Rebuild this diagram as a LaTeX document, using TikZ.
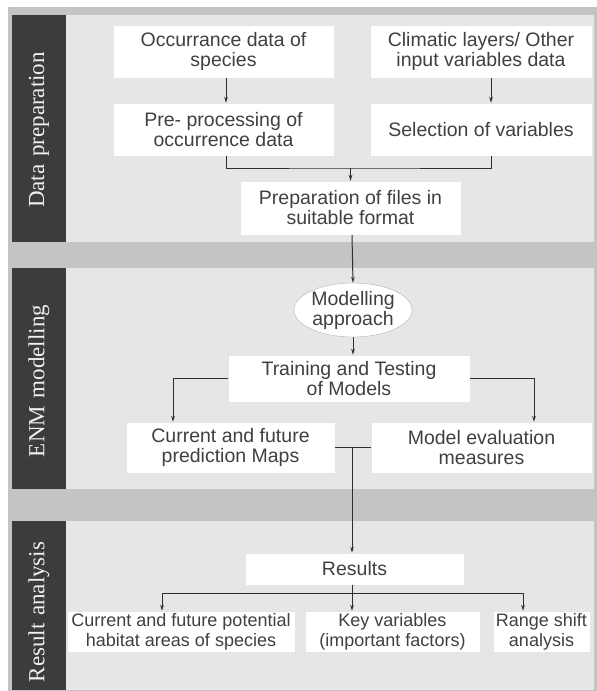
\documentclass[tikz,border=0pt]{standalone}
\usepackage{fontspec}
\setmainfont{Liberation Serif}
\setsansfont{Liberation Sans}
\usetikzlibrary{arrows.meta,shapes.geometric}
\definecolor{outergray}{HTML}{C4C4C4}
\definecolor{panelgray}{HTML}{E6E6E6}
\definecolor{bardark}{HTML}{3C3C3C}
\definecolor{txtgray}{HTML}{404040}
\definecolor{linegray}{HTML}{2E2E2E}
\begin{document}
\begin{tikzpicture}[x=1pt,y=-1pt,
  box/.style={draw=black!10,fill=white,inner sep=0pt,align=center,text=txtgray,
    font=\sffamily\fontsize{19.5}{20}\selectfont},
  smallbox/.style={box,font=\sffamily\fontsize{18}{20}\selectfont},
  ellnode/.style={ellipse,draw=black!30,fill=white,inner sep=0pt,align=center,text=txtgray,
    minimum width=106pt,minimum height=50pt,font=\sffamily\fontsize{19.5}{20}\selectfont},
  barlabel/.style={rotate=90,text=white!94!black,font=\rmfamily\fontsize{23}{24}\selectfont},
  conn/.style={draw=linegray,line width=1pt},
  arr/.style={conn,-{Stealth[length=6pt,width=3.6pt]}}]
\useasboundingbox (0,0) rectangle (597,691);
\fill[white] (0,0) rectangle (597,691);
% frame and panels
\fill[outergray] (8,7) rectangle (597,691);
\fill[panelgray] (12,15) rectangle (594,242);
\fill[panelgray] (12,268) rectangle (594,489);
\fill[panelgray] (12,521) rectangle (594,690);
\fill[bardark] (12,15) rectangle (66,242);
\fill[bardark] (12,268) rectangle (66,489);
\fill[bardark] (12,521) rectangle (66,690);
\node[barlabel] (l1) at (39,130) {Data\,\,preparation};
\node[barlabel] (l2) at (39,381) {ENM\,\,modelling};
\node[barlabel] (l3) at (39,612) {Result\,\,analysis};
% panel 1
\node[box,minimum width=221pt,minimum height=53pt] (occ) at (223.5,51.5) {Occurrance data of\\species};
\node[box,minimum width=222pt,minimum height=53pt] (clim) at (481,51.5) {Climatic layers/ Other\\input variables data};
\node[box,minimum width=221pt,minimum height=53pt] (pre) at (223.5,129.5) {Pre- processing of\\occurrence data};
\node[box,minimum width=222pt,minimum height=53pt] (sel) at (481,129.5) {Selection of variables};
\node[box,minimum width=221pt,minimum height=54pt] (prep) at (350.5,208) {Preparation of files in\\suitable format};
% panel 2
\node[ellnode] (ell) at (353,310) {Modelling\\approach};
\node[box,minimum width=242pt,minimum height=47pt] (train) at (349,378.5) {Training and Testing\\of Models};
\node[box,minimum width=209pt,minimum height=51pt] (curr) at (230.5,447.5) {Current and future\\prediction Maps};
\node[box,minimum width=221pt,minimum height=51pt] (eval) at (481.5,447.5) {Model evaluation\\measures};
% panel 3
\node[box,minimum width=219pt,minimum height=32pt] (res) at (354.5,569) {Results};
\node[smallbox,minimum width=228pt,minimum height=41pt] (pot) at (181,631.5) {Current and future potential\\habitat areas of species};
\node[smallbox,minimum width=175pt,minimum height=41pt] (key) at (392.5,631.5) {Key variables\\(important factors)};
\node[smallbox,minimum width=97pt,minimum height=41pt] (rng) at (541.5,631.5) {Range shift\\analysis};
% connectors panel 1
\draw[arr] ([xshift=2.5pt]occ.south) -- ([xshift=2.5pt]pre.north);
\draw[arr] ([xshift=10pt]clim.south) -- ([xshift=10pt]sel.north);
\coordinate (j1) at (350.5,168);
\draw[conn] ([xshift=2.5pt]pre.south) |- (j1) -| ([xshift=10pt]sel.south);
\draw[arr] (j1) -- (prep.north);
\draw[arr] ([xshift=1.5pt]prep.south) -- (ell.north);
% panel 2
\draw[arr] (ell.south) -- (ell.south |- train.north);
\draw[arr] (train.west) -| ([xshift=-57.5pt]curr.north);
\draw[arr] (train.east) -| ([xshift=52.5pt]eval.north);
\draw[conn] (curr.east) -- (eval.west);
\coordinate (j2) at (352,447.5);
\draw[arr] (j2) -- (j2 |- res.north);
% panel 3
\coordinate (j3) at (352,593);
\draw[conn] (j3 |- res.south) -- (j3);
\draw[conn] ([xshift=-19pt]pot.north |- j3) -- ([xshift=-18.5pt]rng.north |- j3);
\draw[arr] ([xshift=-19pt]pot.north |- j3) -- ([xshift=-19pt]pot.north);
\draw[arr] (j3) -- (j3 |- key.north);
\draw[arr] ([xshift=-18.5pt]rng.north |- j3) -- ([xshift=-18.5pt]rng.north);
\end{tikzpicture}
\end{document}
